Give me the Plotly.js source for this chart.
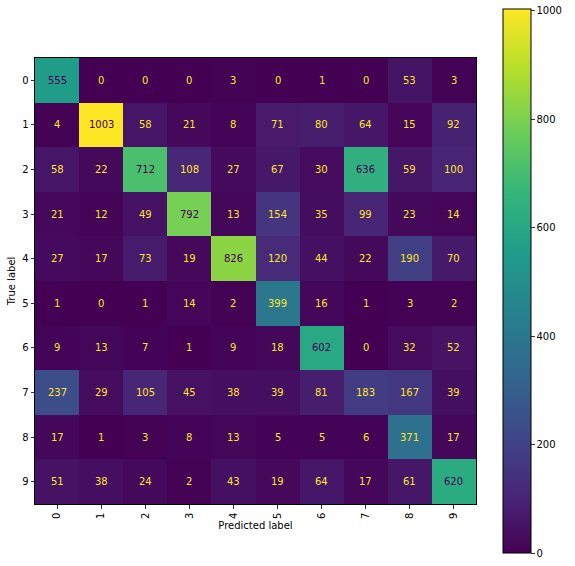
<!DOCTYPE html>
<html>
<head>
<meta charset="utf-8">
<script src="https://cdn.plot.ly/plotly-3.0.1.min.js"></script>
<style>html,body{margin:0;padding:0;background:#fff;}#chart{width:575px;height:566px;}</style>
</head>
<body>
<div id="chart"></div>
<script>
const labels = ['0','1','2','3','4','5','6','7','8','9'];
const row0 = [555, 0, 0, 0, 3, 0, 1, 0, 53, 3];
const row1 = [4, 1003, 58, 21, 8, 71, 80, 64, 15, 92];
const row2 = [58, 22, 712, 108, 27, 67, 30, 636, 59, 100];
const row3 = [21, 12, 49, 792, 13, 154, 35, 99, 23, 14];
const row4 = [27, 17, 73, 19, 826, 120, 44, 22, 190, 70];
const row5 = [1, 0, 1, 14, 2, 399, 16, 1, 3, 2];
const row6 = [9, 13, 7, 1, 9, 18, 602, 0, 32, 52];
const row7 = [237, 29, 105, 45, 38, 39, 81, 183, 167, 39];
const row8 = [17, 1, 3, 8, 13, 5, 5, 6, 371, 17];
const row9 = [51, 38, 24, 2, 43, 19, 64, 17, 61, 620];
const matrix = [row0, row1, row2, row3, row4, row5, row6, row7, row8, row9];
const colorbarTicks = [0, 200, 400, 600, 800, 1000];

const viridis = [
  [0.0, '#440154'], [0.1111, '#482878'], [0.2222, '#3e4989'], [0.3333, '#31688e'],
  [0.4444, '#26828e'], [0.5556, '#1f9e89'], [0.6667, '#35b779'], [0.7778, '#6ece58'],
  [0.8889, '#b5de2b'], [1.0, '#fde725']
];

let zmin = Infinity, zmax = -Infinity;
matrix.forEach(r => r.forEach(v => { zmin = Math.min(zmin, v); zmax = Math.max(zmax, v); }));
const thresh = (zmin + zmax) / 2;

const annotations = [];
matrix.forEach((r, i) => r.forEach((v, j) => {
  annotations.push({
    x: j, y: i, xref: 'x', yref: 'y', text: String(v), showarrow: false,
    font: {family: 'DejaVu Sans', size: 10, color: v < thresh ? '#fde725' : '#440154'}
  });
}));

const trace = {
  type: 'heatmap',
  z: matrix,
  x: labels.map((_, k) => k),
  y: labels.map((_, k) => k),
  zmin: zmin, zmax: zmax,
  colorscale: viridis,
  hoverinfo: 'skip',
  xgap: 0, ygap: 0,
  colorbar: {
    x: 1.0604, xanchor: 'left', xpad: 0, xref: 'paper',
    y: 0.4996, yanchor: 'middle', ypad: 0, yref: 'paper',
    len: 544, lenmode: 'pixels',
    thickness: 28, thicknessmode: 'pixels',
    outlinewidth: 1, outlinecolor: '#000',
    tickmode: 'array', tickvals: colorbarTicks, ticktext: colorbarTicks.map(String),
    ticks: 'outside', ticklen: 3.5, tickwidth: 0.8, tickcolor: '#000',
    tickfont: {family: 'DejaVu Sans', size: 10, color: '#000'}
  }
};

const layout = {
  width: 575, height: 566,
  margin: {l: 35, r: 93, t: 58, b: 62, pad: 0},
  paper_bgcolor: '#fff', plot_bgcolor: '#fff',
  font: {family: 'DejaVu Sans', size: 10, color: '#000'},
  xaxis: {
    tickmode: 'array', tickvals: labels.map((_, k) => k), ticktext: labels,
    tickangle: -90, ticks: 'outside', ticklen: 3.5, tickwidth: 0.8, tickcolor: '#000',
    showline: true, mirror: true, linecolor: '#000', linewidth: 1,
    showgrid: false, zeroline: false, range: [-0.5, 9.5],
    title: {text: 'Predicted label', font: {family: 'DejaVu Sans', size: 10, color: '#000'}, standoff: 4},
    tickfont: {family: 'DejaVu Sans', size: 10, color: '#000'}
  },
  yaxis: {
    tickmode: 'array', tickvals: labels.map((_, k) => k), ticktext: labels,
    ticks: 'outside', ticklen: 3.5, tickwidth: 0.8, tickcolor: '#000',
    showline: true, mirror: true, linecolor: '#000', linewidth: 1,
    showgrid: false, zeroline: false, range: [9.5, -0.5],
    title: {text: 'True label', font: {family: 'DejaVu Sans', size: 10, color: '#000'}, standoff: 4},
    tickfont: {family: 'DejaVu Sans', size: 10, color: '#000'}
  },
  annotations: annotations
};

Plotly.newPlot('chart', [trace], layout, {displayModeBar: false, staticPlot: true});
</script>
</body>
</html>
